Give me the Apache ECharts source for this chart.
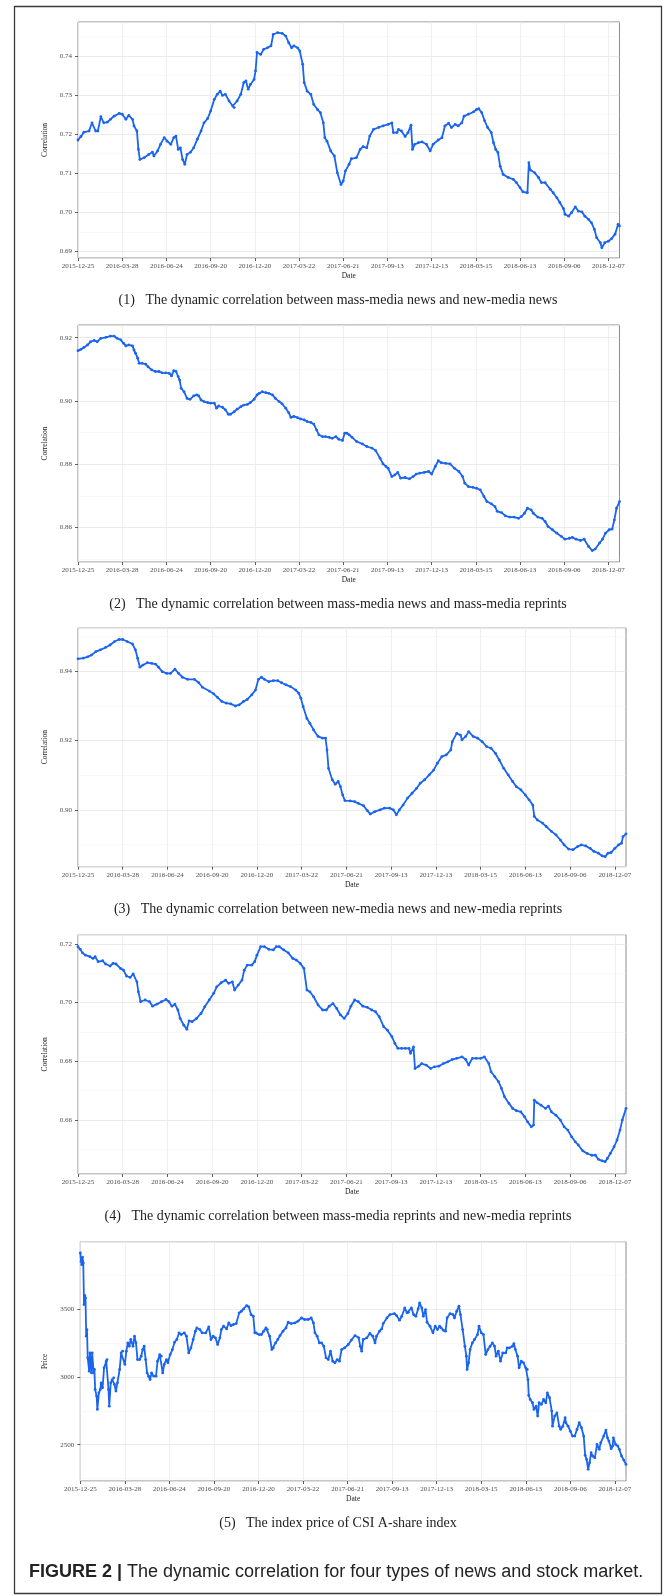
<!DOCTYPE html>
<html><head><meta charset="utf-8">
<script src="https://cdn.jsdelivr.net/npm/echarts@6/dist/echarts.min.js"></script>
<style>html,body{margin:0;padding:0;background:#fff}#c{width:669px;height:1595px}</style>
</head><body><div id="c"></div>
<script>
// ---------- DATA ----------
const tickLabels = ['2015-12-25','2016-03-28','2016-06-24','2016-09-20','2016-12-20','2017-03-22','2017-06-21','2017-09-13','2017-12-13','2018-03-15','2018-06-13','2018-09-06','2018-12-07'];
const tickStep = 60;      // trading days between date labels
const lastDay = 735;      // index of last trading day

// [trading-day index, value]
const massNewsVsNewNews = [[0,0.7185],[4,0.7194],[8,0.7205],[15,0.7208],[19,0.7229],[24,0.7208],[27,0.7208],[31,0.7245],[35,0.7229],[40,0.7231],[44,0.7238],[49,0.7246],[56,0.7253],[60,0.7251],[65,0.7238],[69,0.7248],[74,0.7238],[76,0.7221],[80,0.7208],[82,0.7161],[84,0.7135],[90,0.7140],[96,0.7148],[101,0.7154],[103,0.7144],[108,0.7157],[112,0.7174],[117,0.7191],[121,0.7182],[126,0.7174],[130,0.7191],[133,0.7195],[136,0.7161],[139,0.7165],[142,0.7135],[145,0.7123],[148,0.7148],[153,0.7154],[157,0.7165],[162,0.7187],[167,0.7208],[171,0.7229],[176,0.7240],[180,0.7259],[185,0.7289],[189,0.7302],[193,0.7310],[196,0.7299],[200,0.7302],[205,0.7285],[210,0.7272],[212,0.7268],[216,0.7285],[221,0.7302],[225,0.7332],[228,0.7336],[231,0.7315],[234,0.7327],[239,0.7340],[241,0.7362],[243,0.7409],[248,0.7404],[252,0.7417],[257,0.7421],[262,0.7426],[265,0.7455],[271,0.7460],[277,0.7458],[282,0.7451],[286,0.7434],[290,0.7421],[293,0.7426],[298,0.7421],[301,0.7413],[305,0.7379],[307,0.7332],[311,0.7310],[316,0.7302],[320,0.7276],[325,0.7263],[329,0.7255],[333,0.7229],[335,0.7191],[338,0.7182],[343,0.7157],[348,0.7144],[352,0.7101],[357,0.7071],[360,0.7080],[363,0.7106],[368,0.7123],[371,0.7137],[378,0.7140],[383,0.7161],[387,0.7168],[392,0.7165],[396,0.7195],[401,0.7212],[408,0.7217],[414,0.7221],[421,0.7225],[426,0.7229],[428,0.7204],[433,0.7204],[435,0.7212],[439,0.7208],[444,0.7194],[448,0.7204],[452,0.7223],[454,0.7161],[457,0.7174],[462,0.7178],[467,0.7180],[473,0.7174],[478,0.7157],[482,0.7174],[489,0.7185],[494,0.7191],[498,0.7221],[503,0.7228],[507,0.7217],[512,0.7225],[516,0.7221],[521,0.7229],[524,0.7246],[530,0.7251],[537,0.7257],[541,0.7263],[544,0.7265],[548,0.7255],[552,0.7234],[556,0.7217],[561,0.7204],[564,0.7178],[567,0.7161],[570,0.7153],[573,0.7118],[577,0.7097],[584,0.7089],[591,0.7084],[595,0.7076],[600,0.7063],[604,0.7052],[610,0.7050],[612,0.7127],[614,0.7108],[620,0.7101],[625,0.7089],[629,0.7076],[634,0.7076],[641,0.7059],[645,0.7050],[650,0.7037],[654,0.7025],[659,0.7009],[661,0.6995],[666,0.6990],[670,0.6999],[675,0.7014],[679,0.7003],[684,0.7001],[688,0.6990],[693,0.6982],[697,0.6973],[701,0.6956],[704,0.6935],[709,0.6922],[711,0.6909],[715,0.6922],[720,0.6926],[724,0.6932],[729,0.6944],[733,0.6969],[735,0.6965]];

const massNewsVsMassReprints = [[0,0.9159],[4,0.9163],[8,0.9169],[13,0.9177],[17,0.9187],[22,0.9191],[26,0.9187],[31,0.9198],[38,0.9201],[44,0.9205],[49,0.9205],[53,0.9198],[58,0.9193],[62,0.9182],[65,0.9174],[69,0.9177],[74,0.9174],[76,0.9161],[78,0.9151],[81,0.9135],[83,0.9119],[87,0.9119],[92,0.9116],[95,0.9108],[100,0.9098],[105,0.9093],[110,0.9093],[114,0.9089],[119,0.9089],[124,0.9087],[127,0.9079],[130,0.9096],[133,0.9093],[136,0.9077],[138,0.9066],[140,0.9040],[144,0.9029],[148,0.9008],[152,0.9005],[157,0.9016],[161,0.9019],[164,0.9016],[167,0.9003],[171,0.8998],[176,0.8995],[180,0.8993],[185,0.8993],[188,0.8977],[191,0.8984],[196,0.8980],[200,0.8972],[204,0.8958],[207,0.8958],[212,0.8966],[216,0.8974],[221,0.8982],[225,0.8987],[230,0.8989],[234,0.8995],[239,0.9005],[243,0.9019],[246,0.9024],[250,0.9029],[255,0.9026],[259,0.9024],[264,0.9019],[268,0.9008],[273,0.8998],[277,0.8991],[282,0.8977],[286,0.8963],[289,0.8948],[293,0.8951],[298,0.8947],[302,0.8943],[307,0.8940],[311,0.8935],[316,0.8932],[320,0.8927],[324,0.8908],[327,0.8893],[332,0.8887],[336,0.8887],[341,0.8885],[345,0.8882],[350,0.8887],[354,0.8879],[359,0.8875],[362,0.8898],[365,0.8898],[368,0.8893],[372,0.8885],[378,0.8872],[386,0.8864],[392,0.8856],[399,0.8851],[404,0.8843],[410,0.8819],[414,0.8801],[418,0.8793],[421,0.8787],[426,0.8761],[430,0.8766],[434,0.8774],[438,0.8756],[444,0.8758],[450,0.8754],[455,0.8761],[459,0.8769],[464,0.8772],[470,0.8774],[476,0.8777],[480,0.8769],[485,0.8793],[489,0.8811],[493,0.8805],[499,0.8803],[505,0.8801],[511,0.8787],[517,0.8777],[522,0.8761],[525,0.8740],[530,0.8729],[536,0.8727],[541,0.8724],[546,0.8719],[551,0.8698],[555,0.8682],[561,0.8675],[566,0.8666],[569,0.8651],[575,0.8647],[580,0.8637],[586,0.8633],[592,0.8633],[598,0.8629],[602,0.8635],[606,0.8645],[610,0.8661],[615,0.8656],[618,0.8645],[624,0.8633],[630,0.8629],[634,0.8619],[638,0.8603],[644,0.8593],[650,0.8582],[656,0.8572],[661,0.8563],[667,0.8566],[671,0.8569],[676,0.8563],[682,0.8559],[687,0.8563],[693,0.8540],[698,0.8527],[702,0.8532],[708,0.8551],[712,0.8563],[716,0.8582],[721,0.8593],[725,0.8595],[728,0.8624],[731,0.8661],[735,0.8682]];

const newNewsVsNewReprints = [[0,0.9436],[7,0.9438],[13,0.9442],[18,0.9447],[24,0.9457],[30,0.9462],[37,0.9469],[43,0.9476],[49,0.9486],[55,0.9492],[60,0.9492],[66,0.9486],[73,0.9479],[77,0.9462],[80,0.9438],[83,0.9412],[87,0.9418],[93,0.9425],[99,0.9423],[104,0.9421],[108,0.9412],[113,0.9399],[119,0.9394],[124,0.9394],[130,0.9406],[135,0.9394],[140,0.9383],[147,0.9377],[156,0.9377],[162,0.9367],[167,0.9354],[176,0.9343],[182,0.9335],[187,0.9325],[193,0.9313],[199,0.9308],[205,0.9306],[211,0.9300],[216,0.9303],[222,0.9313],[227,0.9319],[233,0.9332],[238,0.9346],[242,0.9377],[246,0.9383],[250,0.9377],[256,0.9370],[262,0.9373],[268,0.9373],[273,0.9367],[279,0.9361],[285,0.9356],[292,0.9346],[296,0.9337],[299,0.9322],[302,0.9298],[307,0.9264],[311,0.9250],[316,0.9231],[322,0.9212],[328,0.9207],[332,0.9207],[334,0.9173],[336,0.9120],[341,0.9087],[345,0.9074],[349,0.9082],[352,0.9067],[355,0.9043],[358,0.9027],[365,0.9026],[371,0.9024],[376,0.9019],[383,0.9012],[388,0.8998],[392,0.8988],[398,0.8995],[405,0.9000],[411,0.9005],[418,0.9005],[423,0.9000],[427,0.8986],[431,0.9000],[436,0.9014],[442,0.9034],[448,0.9048],[454,0.9062],[459,0.9077],[465,0.9087],[471,0.9101],[477,0.9115],[482,0.9135],[488,0.9154],[494,0.9159],[500,0.9173],[502,0.9197],[508,0.9221],[513,0.9216],[515,0.9202],[520,0.9212],[524,0.9226],[530,0.9212],[536,0.9207],[542,0.9197],[548,0.9183],[554,0.9178],[560,0.9163],[565,0.9144],[571,0.9120],[577,0.9101],[583,0.9082],[588,0.9067],[594,0.9058],[600,0.9043],[605,0.9029],[610,0.9014],[612,0.8981],[616,0.8971],[623,0.8962],[628,0.8952],[635,0.8938],[641,0.8928],[647,0.8913],[652,0.8899],[658,0.8887],[664,0.8885],[670,0.8894],[675,0.8899],[681,0.8896],[687,0.8889],[692,0.8880],[698,0.8875],[703,0.8867],[707,0.8865],[711,0.8875],[715,0.8877],[720,0.8889],[725,0.8899],[729,0.8904],[731,0.8923],[735,0.8931]];

const massReprintsVsNewReprints = [[0,0.7191],[3,0.7182],[6,0.7170],[10,0.7162],[16,0.7157],[20,0.7151],[23,0.7157],[27,0.7140],[33,0.7143],[37,0.7132],[43,0.7125],[47,0.7134],[51,0.7132],[57,0.7117],[61,0.7111],[65,0.7091],[70,0.7086],[74,0.7098],[79,0.7071],[81,0.7037],[84,0.7003],[90,0.7009],[96,0.7003],[100,0.6988],[106,0.6995],[112,0.7003],[118,0.7011],[122,0.7003],[126,0.6988],[130,0.6995],[134,0.6975],[137,0.6946],[142,0.6923],[146,0.6909],[149,0.6938],[153,0.6935],[159,0.6946],[165,0.6963],[170,0.6986],[176,0.7009],[182,0.7032],[186,0.7054],[192,0.7068],[198,0.7077],[202,0.7066],[207,0.7071],[210,0.7043],[215,0.7060],[220,0.7077],[223,0.7111],[227,0.7128],[233,0.7128],[237,0.7140],[240,0.7162],[245,0.7191],[250,0.7191],[256,0.7182],[262,0.7180],[266,0.7191],[270,0.7191],[276,0.7180],[282,0.7170],[288,0.7151],[293,0.7145],[298,0.7134],[303,0.7117],[307,0.7043],[311,0.7037],[316,0.7020],[322,0.6992],[328,0.6975],[333,0.6975],[337,0.6988],[342,0.6997],[347,0.6980],[352,0.6958],[357,0.6946],[362,0.6963],[366,0.6988],[371,0.7009],[376,0.7003],[382,0.6988],[388,0.6984],[394,0.6975],[399,0.6969],[404,0.6952],[410,0.6918],[415,0.6906],[421,0.6884],[425,0.6861],[429,0.6844],[434,0.6844],[439,0.6844],[444,0.6844],[446,0.6827],[450,0.6849],[452,0.6775],[457,0.6783],[461,0.6792],[467,0.6787],[473,0.6775],[478,0.6781],[484,0.6783],[490,0.6792],[496,0.6798],[502,0.6806],[508,0.6810],[515,0.6815],[520,0.6806],[524,0.6787],[529,0.6810],[534,0.6810],[540,0.6810],[545,0.6815],[551,0.6792],[554,0.6764],[559,0.6747],[564,0.6730],[568,0.6707],[572,0.6679],[578,0.6656],[583,0.6639],[588,0.6631],[594,0.6627],[599,0.6610],[603,0.6593],[608,0.6576],[611,0.6582],[612,0.6667],[616,0.6658],[621,0.6650],[627,0.6639],[631,0.6647],[635,0.6627],[641,0.6616],[647,0.6599],[652,0.6576],[657,0.6565],[662,0.6542],[667,0.6525],[671,0.6514],[677,0.6494],[683,0.6485],[689,0.6479],[694,0.6479],[698,0.6465],[703,0.6460],[707,0.6457],[710,0.6468],[714,0.6485],[719,0.6508],[723,0.6531],[727,0.6565],[730,0.6599],[735,0.6639]];

const csiPrice = [[0,3912],[1,3850],[2,3826],[3,3882],[4,3838],[5,3532],[6,3600],[7,3581],[8,3299],[9,3348],[10,3140],[12,3042],[13,3176],[15,3029],[16,3176],[18,3029],[19,3054],[20,2907],[22,2858],[23,2760],[25,2882],[27,2907],[28,2956],[30,2919],[32,3066],[35,3115],[36,3127],[38,2907],[39,2784],[41,2956],[43,2980],[45,2993],[46,2944],[48,2895],[50,2956],[53,3054],[55,3176],[57,3189],[60,3091],[62,3189],[64,3250],[66,3225],[68,3275],[71,3225],[73,3299],[75,3250],[77,3127],[80,3127],[82,3152],[84,3201],[86,3225],[88,3127],[90,3029],[92,3005],[94,2980],[96,3029],[99,3005],[102,3005],[104,3115],[107,3164],[109,3152],[111,3029],[113,3091],[116,3127],[118,3103],[121,3164],[124,3201],[127,3255],[130,3275],[133,3324],[136,3311],[140,3324],[143,3299],[146,3176],[149,3213],[152,3275],[155,3336],[157,3360],[161,3348],[164,3324],[169,3324],[173,3368],[176,3275],[179,3299],[182,3287],[185,3238],[188,3287],[190,3348],[193,3373],[197,3353],[200,3397],[203,3377],[206,3385],[210,3392],[214,3471],[217,3483],[220,3500],[224,3525],[227,3515],[230,3458],[233,3446],[235,3324],[237,3324],[241,3311],[244,3311],[247,3336],[250,3360],[252,3348],[255,3299],[258,3201],[260,3213],[263,3250],[266,3275],[269,3304],[273,3336],[277,3360],[280,3402],[284,3392],[289,3397],[293,3409],[298,3434],[302,3422],[307,3422],[311,3434],[314,3397],[316,3324],[319,3299],[322,3250],[325,3250],[328,3225],[331,3140],[334,3127],[337,3189],[340,3115],[343,3103],[346,3127],[349,3115],[352,3201],[356,3213],[361,3238],[365,3270],[370,3304],[375,3287],[377,3225],[379,3189],[381,3275],[386,3287],[390,3319],[394,3299],[397,3250],[399,3299],[403,3336],[406,3353],[408,3392],[413,3434],[417,3458],[423,3466],[426,3451],[430,3417],[433,3446],[437,3507],[440,3471],[442,3475],[446,3507],[449,3458],[452,3446],[455,3500],[457,3544],[460,3507],[462,3446],[465,3495],[467,3402],[471,3373],[475,3324],[478,3373],[481,3348],[484,3373],[486,3360],[489,3343],[492,3336],[494,3434],[498,3466],[502,3458],[504,3434],[507,3483],[510,3520],[512,3458],[515,3348],[518,3225],[520,3152],[521,3054],[523,3103],[525,3201],[528,3250],[531,3275],[535,3311],[537,3373],[540,3324],[543,3311],[546,3164],[549,3201],[552,3225],[555,3250],[558,3225],[560,3152],[563,3189],[566,3115],[569,3176],[573,3176],[575,3213],[578,3213],[582,3225],[584,3245],[586,3201],[589,3152],[591,3066],[594,3115],[597,3103],[600,3066],[602,3054],[603,2980],[604,2863],[606,2833],[609,2809],[611,2760],[614,2784],[616,2711],[618,2809],[621,2797],[624,2833],[627,2809],[629,2882],[632,2846],[635,2748],[636,2637],[639,2711],[642,2735],[645,2637],[647,2613],[650,2637],[653,2699],[654,2662],[657,2637],[660,2600],[663,2564],[666,2564],[669,2613],[672,2662],[675,2625],[678,2564],[680,2422],[682,2392],[684,2319],[686,2368],[688,2441],[690,2417],[693,2404],[696,2502],[699,2466],[701,2515],[705,2564],[708,2608],[710,2551],[712,2527],[715,2471],[717,2490],[718,2551],[721,2502],[724,2490],[726,2466],[729,2417],[732,2387],[735,2355]];

const captions = [
  '(1)   The dynamic correlation between mass-media news and new-media news',
  '(2)   The dynamic correlation between mass-media news and mass-media reprints',
  '(3)   The dynamic correlation between new-media news and new-media reprints',
  '(4)   The dynamic correlation between mass-media reprints and new-media reprints',
  '(5)   The index price of CSI A-share index'
];
const yNames = ['Correlation','Correlation','Correlation','Correlation','Price'];
const xName = 'Date';
const figureLabel = 'FIGURE 2 |';
const figureText = ' The dynamic correlation for four types of news and stock market.';

// ---------- LAYOUT ----------
const series_ = [massNewsVsNewNews, massNewsVsMassReprints, newNewsVsNewReprints, massReprintsVsNewReprints, csiPrice];
const layout = [
  {left:78,   top:22,    width:541.5, height:236,   min:0.6883, max:0.7487, split:5, dec:2},
  {left:78,   top:325,   width:541.5, height:237,   min:0.8491, max:0.9240, split:4, dec:2},
  {left:78,   top:627.7, width:548,   height:239,   min:0.8836, max:0.9526, split:4, dec:2},
  {left:78,   top:934.7, width:548,   height:239.3, min:0.6415, max:0.7232, split:4, dec:2},
  {left:80.3, top:1241.7,width:545.7, height:239.3, min:2233,   max:3995,   split:4, dec:0}
];
const captionY = [300, 604, 909, 1216, 1523];

const serif = '"Liberation Serif", "Times New Roman", serif';
const lineColor = '#1a64f0';
const tickVals = tickLabels.map((_, i) => i * tickStep);

const grids = [], xAxes = [], yAxes = [], series = [];
layout.forEach((L, i) => {
  grids.push({left:L.left, top:L.top, width:L.width, height:L.height, show:true,
    borderColor:'#8c8c8c', borderWidth:1, backgroundColor:'#fff', containLabel:false});
  xAxes.push({type:'value', gridIndex:i, min:0, max:lastDay, interval:tickStep,
    name:xName, nameLocation:'middle', nameGap:14,
    nameTextStyle:{fontFamily:serif, fontSize:7.5, color:'#222'},
    axisLine:{show:false},
    axisTick:{show:true, length:3, lineStyle:{color:'#333', width:0.8}, customValues:tickVals},
    axisLabel:{fontFamily:serif, fontSize:7, color:'#4d4d4d', margin:5,
      customValues:tickVals,
      formatter:v => { const k = Math.round(v / tickStep); return (Math.abs(v - k*tickStep) < 1e-6 && tickLabels[k]) ? tickLabels[k] : ''; }},
    splitLine:{show:true, lineStyle:{color:'#ebebeb', width:0.8}},
    minorSplitLine:{show:false}
  });
  yAxes.push({type:'value', gridIndex:i, min:L.min, max:L.max, splitNumber:L.split, scale:true,
    name:yNames[i], nameLocation:'middle', nameGap:19, nameRotate:90,
    nameTextStyle:{fontFamily:serif, fontSize:7.5, color:'#222'},
    axisLine:{show:false},
    axisTick:{show:true, length:3, lineStyle:{color:'#333', width:0.8}},
    axisLabel:{fontFamily:serif, fontSize:7, color:'#4d4d4d', margin:6, showMinLabel:false, showMaxLabel:false,
      formatter:v => v.toFixed(L.dec)},
    splitLine:{show:true, lineStyle:{color:'#e6e6e6', width:0.8}},
    minorTick:{show:false, splitNumber:2},
    minorSplitLine:{show:true, lineStyle:{color:'#f3f3f3', width:0.6}}
  });
  series.push({type:'line', xAxisIndex:i, yAxisIndex:i, data:series_[i],
    showSymbol:true, symbol:'circle', symbolSize:2.8,
    itemStyle:{color:lineColor}, lineStyle:{color:lineColor, width:1.8}, silent:true});
});

const graphics = [
  {type:'rect', shape:{x:14.5, y:6.5, width:647, height:1587}, style:{fill:'none', stroke:'#3a3a3a', lineWidth:1.3}, silent:true}
];
captions.forEach((t, i) => graphics.push({type:'text', x:338, y:captionY[i],
  style:{text:t, fontFamily:serif, fontSize:14, fill:'#222', textAlign:'center', textVerticalAlign:'middle'}}));
graphics.push({type:'text', x:29, y:1572,
  style:{text:'{b|' + figureLabel + '}{n|' + figureText + '}', textAlign:'left', textVerticalAlign:'middle',
    rich:{b:{fontFamily:'"Liberation Sans", Arial, sans-serif', fontSize:18, fontWeight:'bold', fill:'#222'},
          n:{fontFamily:'"Liberation Sans", Arial, sans-serif', fontSize:18, fill:'#222'}}}});

const chart = echarts.init(document.getElementById('c'), null, {renderer:'canvas', width:669, height:1595});
chart.setOption({animation:false, backgroundColor:'#fff', grid:grids, xAxis:xAxes, yAxis:yAxes, series:series, graphic:graphics});
</script></body></html>
